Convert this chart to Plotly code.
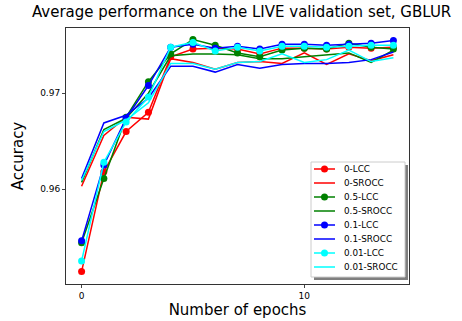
import plotly.graph_objects as go

epochs = list(range(15))

lcc_0 = [0.9514, 0.9618, 0.9660, 0.9680, 0.9738, 0.9746, 0.9747, 0.9746, 0.9741, 0.9747, 0.9747, 0.9746, 0.9748, 0.9747, 0.9748]
srocc_0 = [0.9603, 0.9656, 0.9675, 0.9673, 0.9736, 0.9732, 0.9725, 0.9732, 0.9733, 0.9731, 0.9742, 0.9730, 0.9741, 0.9734, 0.9740]
lcc_05 = [0.9544, 0.9611, 0.9675, 0.9712, 0.9741, 0.9756, 0.9750, 0.9742, 0.9738, 0.9745, 0.9747, 0.9746, 0.9752, 0.9748, 0.9746]
srocc_05 = [0.9607, 0.9662, 0.9674, 0.9700, 0.9739, 0.9741, 0.9741, 0.9740, 0.9736, 0.9736, 0.9738, 0.9740, 0.9742, 0.9732, 0.9745]
lcc_01 = [0.9546, 0.9625, 0.9674, 0.9708, 0.9748, 0.9751, 0.9747, 0.9749, 0.9746, 0.9751, 0.9751, 0.9750, 0.9751, 0.9752, 0.9755]
srocc_01 = [0.9611, 0.9669, 0.9677, 0.9695, 0.9728, 0.9728, 0.9722, 0.9730, 0.9726, 0.9730, 0.9731, 0.9731, 0.9732, 0.9735, 0.9743]
lcc_001 = [0.9525, 0.9628, 0.9670, 0.9696, 0.9748, 0.9753, 0.9744, 0.9748, 0.9744, 0.9749, 0.9749, 0.9748, 0.9749, 0.9750, 0.9750]
srocc_001 = [0.9609, 0.9660, 0.9672, 0.9690, 0.9731, 0.9731, 0.9725, 0.9732, 0.9733, 0.9741, 0.9732, 0.9735, 0.9745, 0.9733, 0.9737]

series = [
    ("0-LCC", lcc_0, "red", True),
    ("0-SROCC", srocc_0, "red", False),
    ("0.5-LCC", lcc_05, "green", True),
    ("0.5-SROCC", srocc_05, "green", False),
    ("0.1-LCC", lcc_01, "blue", True),
    ("0.1-SROCC", srocc_01, "blue", False),
    ("0.01-LCC", lcc_001, "cyan", True),
    ("0.01-SROCC", srocc_001, "cyan", False),
]

FONT = "DejaVu Sans"
fig = go.Figure()
for name, vals, color, mk in series:
    fig.add_trace(go.Scatter(
        x=epochs, y=vals, name=name,
        mode="lines+markers" if mk else "lines",
        line=dict(color=color, width=1.5),
        marker=dict(color=color, size=7),
        showlegend=False,
    ))

# custom legend (matplotlib-like, compact, with shadow)
W, H = 462, 321
L, R, T, B = 66, 53, 28, 37
pw, ph = W - L - R, H - T - B
def px(x): return (x - L) / pw
def py(y): return (H - B - y) / ph

shapes = []
annotations = []
shapes.append(dict(type="rect", xref="paper", yref="paper",
                   x0=px(314), x1=px(408), y0=py(280), y1=py(165),
                   fillcolor="#7f7f7f", line=dict(width=0), layer="above"))
shapes.append(dict(type="rect", xref="paper", yref="paper",
                   x0=px(311), x1=px(405), y0=py(277), y1=py(162),
                   fillcolor="white", line=dict(color="#cccccc", width=1), layer="above"))
for i, (name, vals, color, mk) in enumerate(series):
    yy = 169 + 14 * i
    shapes.append(dict(type="line", xref="paper", yref="paper",
                       x0=px(314), x1=px(335), y0=py(yy), y1=py(yy),
                       line=dict(color=color, width=1.5), layer="above"))
    if mk:
        shapes.append(dict(type="circle", xref="paper", yref="paper",
                           xsizemode="pixel", ysizemode="pixel",
                           xanchor=px(324.5), yanchor=py(yy),
                           x0=-3.5, x1=3.5, y0=-3.5, y1=3.5,
                           fillcolor=color, line=dict(color=color, width=0), layer="above"))
    annotations.append(dict(text=name, xref="paper", yref="paper",
                            x=px(342), y=py(yy), xanchor="left", yanchor="middle",
                            showarrow=False, font=dict(size=8.8, family=FONT, color="black")))

fig.update_layout(
    width=W, height=H,
    margin=dict(l=L, r=R, t=T, b=B, autoexpand=False),
    paper_bgcolor="white", plot_bgcolor="white",
    font=dict(family=FONT, color="black"),
    title=dict(text="Average performance on the LIVE validation set, GBLUR",
               x=0.523, xanchor="center", y=0.962, yanchor="middle",
               font=dict(size=15, family=FONT)),
    showlegend=False,
    shapes=shapes,
    annotations=annotations,
    xaxis=dict(range=[-0.7, 14.7], tickvals=[0, 10], ticks="outside", ticklen=3,
               showline=True, linecolor="#333333", linewidth=1, mirror=True,
               showgrid=False, zeroline=False, tickfont=dict(size=9),
               automargin=False,
               title=dict(text="Number of epochs", font=dict(size=15), standoff=2)),
    yaxis=dict(range=[0.9501, 0.9768], tickvals=[0.96, 0.97], tickformat=".2f",
               ticks="outside", ticklen=3,
               showline=True, linecolor="#333333", linewidth=1, mirror=True,
               showgrid=False, zeroline=False, tickfont=dict(size=9),
               automargin=False,
               title=dict(text="Accuracy", font=dict(size=15), standoff=12)),
)
fig.write_html("out.html", config={"displayModeBar": False},
               post_script="document.body.style.margin='0px';document.body.style.overflow='hidden';")
